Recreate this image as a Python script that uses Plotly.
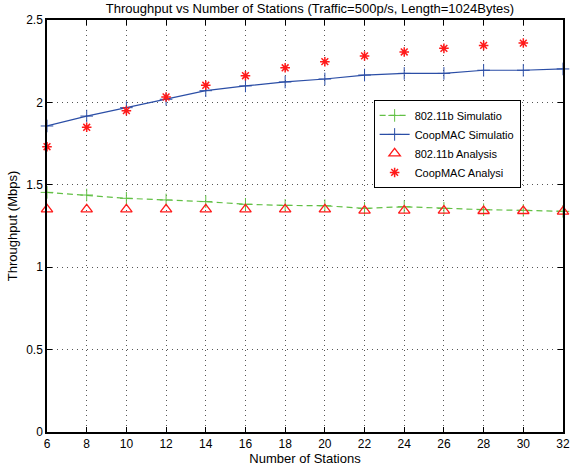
import plotly.graph_objects as go

stations = [6, 8, 10, 12, 14, 16, 18, 20, 22, 24, 26, 28, 30, 32]
sim_80211b = [1.454, 1.438, 1.418, 1.408, 1.398, 1.382, 1.375, 1.373, 1.357, 1.367, 1.357, 1.349, 1.345, 1.339]
sim_coopmac = [1.857, 1.917, 1.968, 2.019, 2.071, 2.100, 2.124, 2.142, 2.166, 2.176, 2.176, 2.195, 2.195, 2.203]
ana_80211b = [1.351, 1.351, 1.351, 1.351, 1.351, 1.351, 1.351, 1.351, 1.343, 1.343, 1.343, 1.341, 1.341, 1.337]
ana_stations = [6, 8, 10, 12, 14, 16, 18, 20, 22, 24, 26, 28, 30]
ana_coopmac = [1.731, 1.849, 1.950, 2.033, 2.104, 2.162, 2.210, 2.247, 2.282, 2.306, 2.328, 2.346, 2.360]

x_ticks = [6, 8, 10, 12, 14, 16, 18, 20, 22, 24, 26, 28, 30, 32]
y_ticks = [0, 0.5, 1, 1.5, 2, 2.5]
y_tick_text = ["0", "0.5", "1", "1.5", "2", "2.5"]

GREEN = "#62c045"
BLUE = "#2b4ea6"
RED = "#ff1a1a"
FONT = "Liberation Sans, Arial, sans-serif"

fig = go.Figure()
fig.add_trace(go.Scatter(
    x=stations, y=sim_80211b, mode="lines+markers", name="802.11b Simulatio",
    line=dict(color=GREEN, width=1.2, dash="6px,4px"),
    marker=dict(symbol="cross-thin-open", size=9, line=dict(color=GREEN, width=1)),
    cliponaxis=False))
fig.add_trace(go.Scatter(
    x=stations, y=sim_coopmac, mode="lines+markers", name="CoopMAC Simulatio",
    line=dict(color=BLUE, width=1.2),
    marker=dict(symbol="cross-thin-open", size=9, line=dict(color=BLUE, width=1)),
    cliponaxis=False))
fig.add_trace(go.Scatter(
    x=stations, y=ana_80211b, mode="markers", name="802.11b Analysis",
    marker=dict(symbol="triangle-up-open", size=10, color=RED, line=dict(color=RED, width=1.3)),
    cliponaxis=False))
fig.add_trace(go.Scatter(
    x=ana_stations, y=ana_coopmac, mode="markers", name="CoopMAC Analysi",
    marker=dict(symbol="asterisk-open", size=8, color=RED, line=dict(color=RED, width=1.5)),
    cliponaxis=False))

axis_common = dict(
    showline=True, linecolor="black", linewidth=1.5, mirror="allticks",
    ticks="inside", ticklen=5, tickcolor="black", tickwidth=1,
    showgrid=True, gridcolor="#555555", gridwidth=1, griddash="1px,4px",
    zeroline=False, tickfont=dict(family=FONT, size=12, color="black"),
)

fig.update_layout(
    width=574, height=468,
    margin=dict(l=47, r=4, t=20, b=36),
    paper_bgcolor="white", plot_bgcolor="white",
    font=dict(family=FONT, color="black"),
    title=dict(text="Throughput vs Number of Stations (Traffic=500p/s, Length=1024Bytes)",
               x=0.54, xanchor="center", y=0.982, yanchor="middle",
               font=dict(family=FONT, size=13, color="black")),
    xaxis=dict(range=[6, 32], tickvals=x_ticks, ticktext=[str(t) for t in x_ticks],
               ticklabeloverflow="allow",
               title=dict(text="Number of Stations", font=dict(family=FONT, size=13), standoff=1),
               **axis_common),
    yaxis=dict(range=[0, 2.5], tickvals=y_ticks, ticktext=y_tick_text,
               title=dict(text="Throughput (Mbps)", font=dict(family=FONT, size=13), standoff=6),
               **axis_common),
    legend=dict(x=0.633, y=0.806, xanchor="left", yanchor="top",
                bgcolor="white", bordercolor="black", borderwidth=1,
                font=dict(family=FONT, size=11, color="black"),
                tracegroupgap=0, itemwidth=30),
    showlegend=True,
)

fig.write_html("out.html", config={"displayModeBar": False},
               post_script="document.body.style.margin='0';document.body.style.overflow='hidden';")
